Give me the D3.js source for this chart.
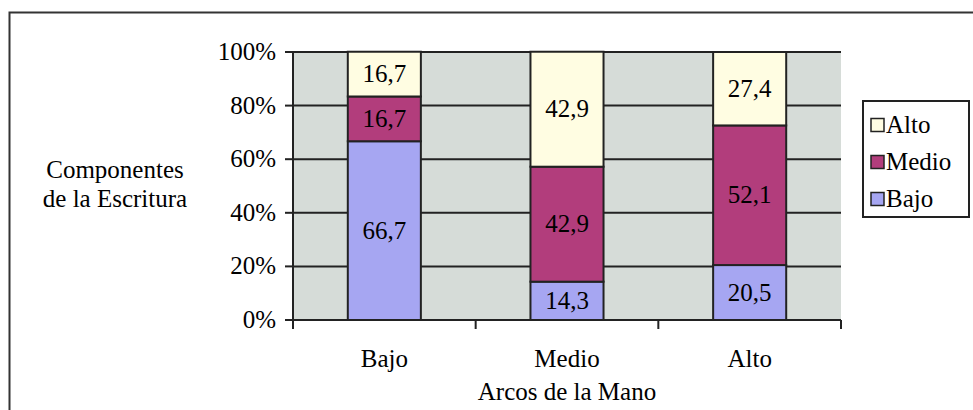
<!DOCTYPE html>
<html><head><meta charset="utf-8">
<script src="https://cdn.jsdelivr.net/npm/d3@7"></script>
<style>body{margin:0;background:#fff}</style>
</head><body><svg id="c" width="973" height="410"></svg>
<script>
const categories = ["Bajo", "Medio", "Alto"];
const seriesNames = ["Bajo", "Medio", "Alto"];
const bajoValues = [66.7, 14.3, 20.5];
const medioValues = [16.7, 42.9, 52.1];
const altoValues = [16.7, 42.9, 27.4];
const yTickLabels = ["0%", "20%", "40%", "60%", "80%", "100%"];
const yTicks = [0, 20, 40, 60, 80, 100];
const colors = {Bajo: "#a6a6f2", Medio: "#b23d7c", Alto: "#fffde2"};

const FONT = "Liberation Serif";
const data = categories.map((c, i) => ({cat: c, Bajo: bajoValues[i], Medio: medioValues[i], Alto: altoValues[i]}));
const svg = d3.select("#c");
const fs = 25;

const txt = (sel) => sel.attr("font-family", FONT).attr("font-size", fs);

svg.append("path").attr("d", "M9.5,412 V12.5 H975").attr("fill", "none").attr("stroke", "#333").attr("stroke-width", 2);

const x = d3.scaleBand().domain(categories).range([293, 841]).paddingInner(0.6).paddingOuter(0.3);
const y = d3.scaleLinear().domain([0, 100]).range([320, 52]);

svg.append("rect").attr("x", 293).attr("y", 52).attr("width", 548).attr("height", 268).attr("fill", "#d6dcd8");

svg.append("g").selectAll("line").data(yTicks.filter(d => d > 0)).join("line")
  .attr("x1", 293).attr("x2", 841).attr("y1", d => y(d)).attr("y2", d => y(d))
  .attr("stroke", "#222").attr("stroke-width", 2);

const stack = d3.stack().keys(seriesNames)(data);
const g = svg.append("g");
stack.forEach(layer => {
  g.selectAll(null).data(layer).join("rect")
    .attr("x", d => x(d.data.cat)).attr("width", x.bandwidth())
    .attr("y", d => y(d[1])).attr("height", d => y(d[0]) - y(d[1]))
    .attr("fill", colors[layer.key]).attr("stroke", "#222").attr("stroke-width", 2);
});
stack.forEach(layer => {
  g.selectAll(null).data(layer).join("text")
    .call(txt)
    .attr("x", d => x(d.data.cat) + x.bandwidth() / 2)
    .attr("y", d => (y(d[0]) + y(d[1])) / 2 + 8)
    .attr("text-anchor", "middle")
    .text(d => d.data[layer.key].toFixed(1).replace(".", ","));
});

const ya = svg.append("g");
ya.append("line").attr("x1", 293).attr("x2", 293).attr("y1", y(100)).attr("y2", y(0)).attr("stroke", "#222").attr("stroke-width", 2);
ya.selectAll("line.t").data(yTicks).join("line").attr("class", "t")
  .attr("x1", 285).attr("x2", 293).attr("y1", d => y(d)).attr("y2", d => y(d)).attr("stroke", "#222").attr("stroke-width", 2);
ya.selectAll("text").data(yTicks).join("text").call(txt)
  .attr("x", 276).attr("y", d => y(d) + 8).attr("text-anchor", "end")
  .text((d, i) => yTickLabels[i]);

const xg = svg.append("g");
xg.append("line").attr("x1", 293).attr("x2", 841).attr("y1", 320).attr("y2", 320).attr("stroke", "#222").attr("stroke-width", 2);
const bounds = [0, 1, 2, 3].map(i => 293 + i * x.step());
xg.selectAll("line.xt").data(bounds).join("line").attr("class", "xt").attr("x1", d => d).attr("x2", d => d).attr("y1", 320).attr("y2", 329).attr("stroke", "#222").attr("stroke-width", 2);
xg.selectAll("text").data(categories).join("text").call(txt)
  .attr("x", d => x(d) + x.bandwidth() / 2).attr("y", 367).attr("text-anchor", "middle").text(d => d);

const title = (tx, ty, s) => svg.append("text").call(txt).attr("x", tx).attr("y", ty).attr("text-anchor", "middle").text(s);
title(567, 400, "Arcos de la Mano");
title(115, 178, "Componentes");
title(115, 207, "de la Escritura");

const lg = svg.append("g");
lg.append("rect").attr("x", 863).attr("y", 101).attr("width", 106).attr("height", 116).attr("fill", "#fff").attr("stroke", "#222").attr("stroke-width", 2);
const legendOrder = seriesNames.slice().reverse();
legendOrder.forEach((k, i) => {
  const cy = 125 + i * 37;
  lg.append("rect").attr("x", 871).attr("y", cy - 6.5).attr("width", 13).attr("height", 13).attr("fill", colors[k]).attr("stroke", "#222").attr("stroke-width", 1.5);
  lg.append("text").call(txt).attr("x", 886).attr("y", cy + 8).text(k);
});
</script></body></html>
